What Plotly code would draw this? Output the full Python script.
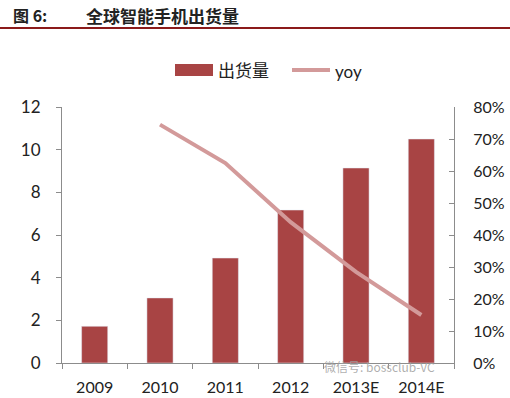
import plotly.graph_objects as go

categories = ["2009", "2010", "2011", "2012", "2013E", "2014E"]
shipments = [1.72, 3.05, 4.92, 7.17, 9.14, 10.5]
yoy_years = ["2010", "2011", "2012", "2013E", "2014E"]
yoy = [0.745, 0.625, 0.44, 0.285, 0.15]

left_ticks = [0, 2, 4, 6, 8, 10, 12]
right_ticks = [0, 0.1, 0.2, 0.3, 0.4, 0.5, 0.6, 0.7, 0.8]

BAR = "#A84444"
LINE = "#D39A9A"
AXIS = "#8C8C8C"
FONT = "Lato, 'Open Sans', sans-serif"
CJK = "'Noto Sans CJK SC', sans-serif"

fig = go.Figure()
fig.add_trace(go.Bar(x=categories, y=shipments, name="出货量", marker_color=BAR,
                     width=0.4, showlegend=False))
fig.add_trace(go.Scatter(x=yoy_years, y=yoy, name="yoy", mode="lines", yaxis="y2",
                         line=dict(color=LINE, width=4), showlegend=False))

W, H = 510, 398
L, R, T, B = 62, 56, 107, 35
pw, ph = W - L - R, H - T - B

def px(xp):
    return (xp - L) / pw

def py(yp):
    return (H - B - yp) / ph

shapes = [
    dict(type="line", xref="paper", yref="paper", x0=px(0), x1=px(W), y0=py(28), y1=py(28),
         line=dict(color="#8B1A1A", width=2)),
    dict(type="rect", xref="paper", yref="paper", x0=px(175), x1=px(213), y0=py(76), y1=py(64),
         fillcolor=BAR, line=dict(width=0)),
    dict(type="line", xref="paper", yref="paper", x0=px(292), x1=px(330), y0=py(70), y1=py(70),
         line=dict(color=LINE, width=4)),
]

annotations = [
    dict(text="<b>图 6:</b>", xref="paper", yref="paper", x=px(11), y=py(15), xanchor="left",
         yanchor="middle", showarrow=False, font=dict(family=CJK, size=16, color="#222")),
    dict(text="<b>全球智能手机出货量</b>", xref="paper", yref="paper", x=px(84), y=py(15),
         xanchor="left", yanchor="middle", showarrow=False,
         font=dict(family=CJK, size=17, color="#222")),
    dict(text="出货量", xref="paper", yref="paper", x=px(216), y=py(69), xanchor="left",
         yanchor="middle", showarrow=False, font=dict(family=CJK, size=17, color="#222")),
    dict(text="yoy", xref="paper", yref="paper", x=px(333), y=py(71), xanchor="left",
         yanchor="middle", showarrow=False, font=dict(family=FONT, size=17, color="#222")),
    dict(text="微信号: bossclub-VC", xref="paper", yref="paper", x=px(322), y=py(366),
         xanchor="left", yanchor="middle", showarrow=False,
         font=dict(family=CJK, size=12, color="rgba(160,160,160,0.85)")),
]

fig.update_layout(
    width=W, height=H,
    margin=dict(l=L, r=R, t=T, b=B, autoexpand=False),
    paper_bgcolor="white", plot_bgcolor="white",
    font=dict(family=FONT, size=16, color="#222"),
    bargap=0.6,
    xaxis=dict(type="category", showline=True, linecolor=AXIS, linewidth=1,
               ticks="outside", tickson="boundaries", ticklen=5, tickcolor=AXIS,
               showgrid=False, tickfont=dict(size=16), ticklabelstandoff=10,
               automargin=False),
    yaxis=dict(range=[0, 12], tickvals=left_ticks, showline=True, linecolor=AXIS,
               ticks="outside", ticklen=5, tickcolor=AXIS, showgrid=False, zeroline=False,
               tickfont=dict(size=17), ticklabelstandoff=12, automargin=False),
    yaxis2=dict(range=[0, 0.8], tickvals=right_ticks, tickformat=".0%", overlaying="y",
                side="right", showline=True, linecolor=AXIS, ticks="inside", ticklen=5,
                tickcolor=AXIS, showgrid=False, zeroline=False, tickfont=dict(size=16),
                ticklabelstandoff=15, automargin=False),
    shapes=shapes,
    annotations=annotations,
)

fig.write_html("out.html", post_script="document.body.style.margin='0';",
               config={"displayModeBar": False})
